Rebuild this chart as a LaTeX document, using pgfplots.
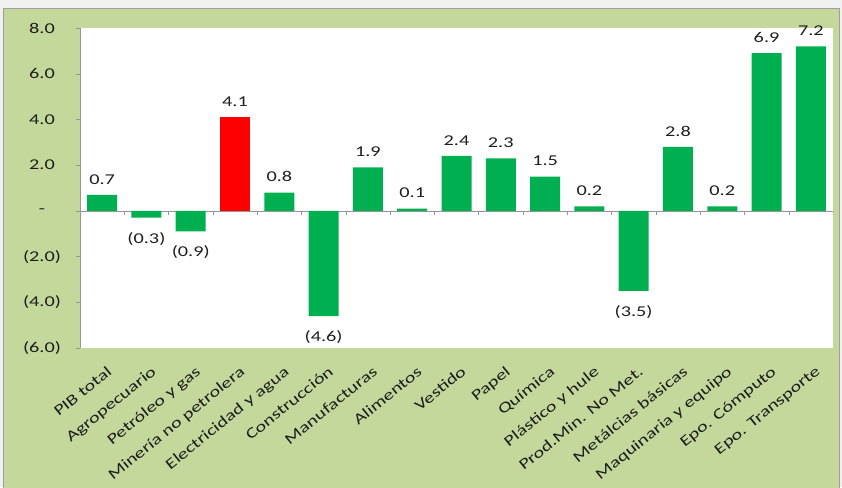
\documentclass[border=0pt]{standalone}
\usepackage{fontspec}
\setmainfont{Carlito}[FakeStretch=1.35]
\usepackage{pgfplots}
\pgfplotsset{compat=1.18}
\usetikzlibrary{backgrounds}
\definecolor{barg}{RGB}{0,176,80}
\definecolor{barr}{RGB}{255,0,0}
\definecolor{panel}{RGB}{196,216,156}
\definecolor{txt}{RGB}{30,30,30}
\definecolor{axg}{RGB}{150,150,150}
\newcommand\lf{\fontsize{15pt}{18pt}\selectfont}
\begin{document}
\begin{tikzpicture}
\useasboundingbox (0,0) rectangle (842pt,-487pt);
\begin{axis}[
  at={(80pt,-348pt)}, anchor=south west,
  scale only axis, width=753pt, height=320pt,
  xmin=-0.5, xmax=16.5, ymin=-6, ymax=8,
  ybar, bar width=30pt, bar shift=0pt,
  axis background/.style={fill=white},
  axis lines*=left,
  separate axis lines,
  x axis line style={draw=none},
  y axis line style={draw=axg},
  tick align=outside,
  major tick length=4pt,
  xtick={0,...,16},
  x tick style={draw=none},
  y tick style={draw=axg},
  xticklabels={PIB total,Agropecuario,Petróleo y gas,Minería no petrolera,Electricidad y agua,Construcción,Manufacturas,Alimentos,Vestido,Papel,Química,Plástico y hule,Prod.Min. No Met.,Metálcias básicas,Maquinaria y equipo,Epo. Cómputo,Epo. Transporte},
  xticklabel style={font=\lf, text=txt, inner sep=0pt, xshift=4pt, yshift=-13pt, rotate=39, anchor=north east},
  ytick={-6,-4,-2,0,2,4,6,8},
  yticklabels={(6.0),(4.0),(2.0),-,2.0,4.0,6.0,8.0},
  yticklabel style={font=\lf, text=txt, anchor=center, xshift=-34pt},
  point meta=explicit symbolic,
  nodes near coords,
  every node near coord/.append style={font=\lf, text=txt},
]
\draw[axg] (axis cs:-0.5,0) -- (axis cs:16.5,0);
\pgfplotsinvokeforeach{0.5,1.5,...,16.5}{\draw[axg] (axis cs:#1,0) -- ([yshift=-4pt]axis cs:#1,0);}
\addplot[fill=barg, draw=none, every node near coord/.append style={anchor=south, yshift=7pt}] coordinates {
(0,0.7) [0.7]
(4,0.8) [0.8]
(6,1.9) [1.9]
(7,0.1) [0.1]
(8,2.4) [2.4]
(9,2.3) [2.3]
(10,1.5) [1.5]
(11,0.2) [0.2]
(13,2.8) [2.8]
(14,0.2) [0.2]
(15,6.9) [6.9]
(16,7.2) [7.2]
};
\addplot[fill=barg, draw=none, every node near coord/.append style={anchor=north, yshift=-11pt}] coordinates {
(1,-0.3) [(0.3)]
(2,-0.9) [(0.9)]
(5,-4.6) [(4.6)]
(12,-3.5) [(3.5)]
};
\addplot[fill=barr, draw=none, every node near coord/.append style={anchor=south, yshift=7pt}] coordinates {
(3,4.1) [4.1]
};
\end{axis}
\begin{scope}[on background layer]
\fill[gray!12] (0,0) rectangle (842pt,-487pt);
\fill[panel, draw=gray!75, line width=1pt] (3pt,-8.5pt) rectangle (839pt,-492pt);
\end{scope}
\end{tikzpicture}
\end{document}
